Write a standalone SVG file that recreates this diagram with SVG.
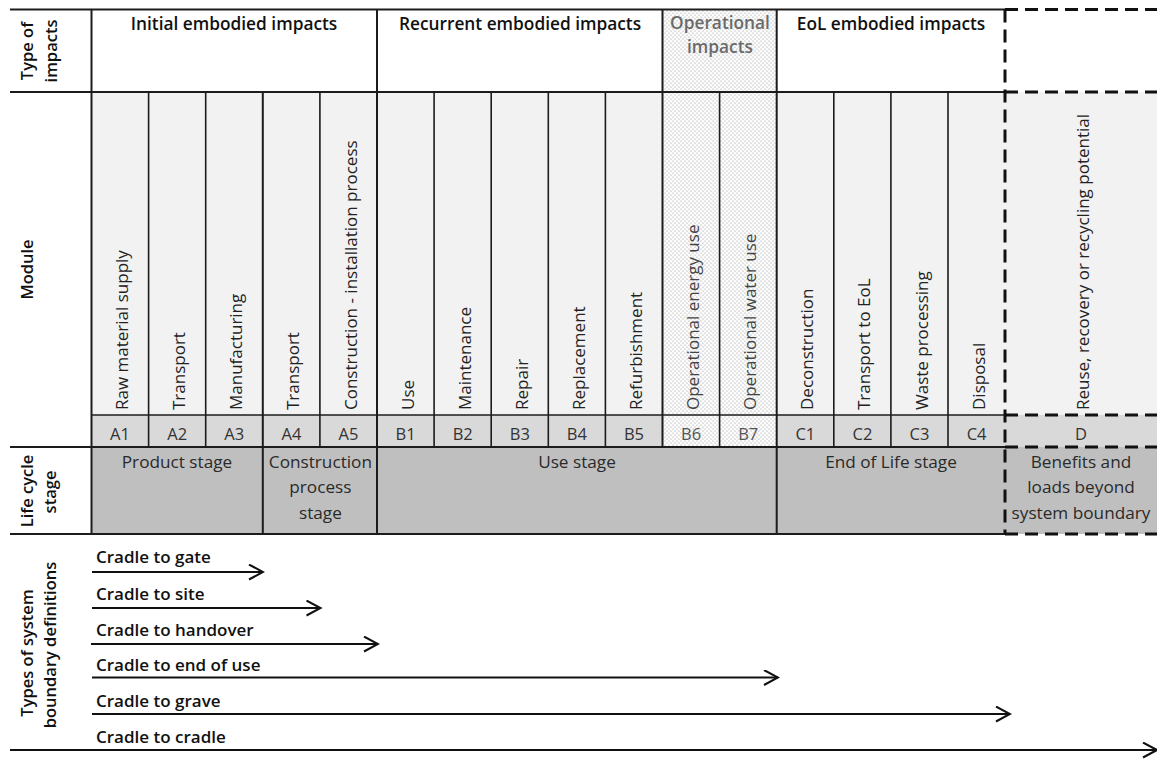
<svg xmlns="http://www.w3.org/2000/svg" width="1157" height="759" viewBox="0 0 1157 759">
<style>
text{font-family:"Open Sans","Liberation Sans",sans-serif;fill:#222}
.hdr{font-size:17.3px;font-weight:600;text-anchor:middle;fill:#111}
.op{font-size:17.3px;font-weight:600;text-anchor:middle;fill:#6a6a6a}
.side{font-size:16.5px;font-weight:600;text-anchor:middle;fill:#111}
.lbl{font-size:17px}
.oplbl{font-size:17px;fill:#444}
.code{font-size:16.5px;text-anchor:middle;fill:#333}
.opcode{font-size:16.5px;text-anchor:middle;fill:#555}
.stage{font-size:17.2px;text-anchor:middle;fill:#2a2a2a}
.bnd{font-size:17px;font-weight:600;fill:#111}
.name{fill:#f2f2f2}
.cd{fill:#d9d9d9}
.dot{fill:url(#dots)}
.ln{stroke:#1c1c1c;stroke-width:2;fill:none}
.thin{stroke:#1c1c1c;stroke-width:1.6;fill:none}
.dash{stroke:#111;stroke-width:3;stroke-dasharray:13 7;fill:none}
.arr{stroke:#111;stroke-width:2;fill:none;marker-end:url(#arrow)}
</style>
<defs>
<pattern id="dots" width="4" height="4" patternUnits="userSpaceOnUse">
<rect width="4" height="4" fill="#fcfcfc"/>
<circle cx="1" cy="1" r="0.6" fill="#999"/>
<circle cx="3" cy="3" r="0.6" fill="#999"/>
</pattern>
<marker id="arrow" markerWidth="17" markerHeight="17" refX="15" refY="8" orient="auto" markerUnits="userSpaceOnUse">
<path d="M1,0.5 L15,8 L1,15.5" fill="none" stroke="#111" stroke-width="2"/>
</marker>
</defs>
<rect width="1157" height="759" fill="#fff"/>

<!-- fills -->
<g id="fills">
<rect class="name" x="91.5" y="92" width="571" height="323"/>
<rect class="name" x="776.7" y="92" width="380.3" height="323"/>
<rect class="cd" x="91.5" y="415" width="571" height="32"/>
<rect class="cd" x="776.7" y="415" width="380.3" height="32"/>
<rect class="dot" x="662.5" y="9.5" width="114.2" height="437.5"/>
<rect x="91.5" y="447" width="1065.5" height="87" fill="#bfbfbf"/>
</g>

<!-- type of impacts -->
<g id="type-of-impacts">
<text class="side" transform="translate(33,51) rotate(-90)">Type of</text>
<text class="side" transform="translate(57,51) rotate(-90)">impacts</text>
</g>
<g id="hdr-initial"><text class="hdr" x="234" y="30">Initial embodied impacts</text></g>
<g id="hdr-recurrent"><text class="hdr" x="520" y="30">Recurrent embodied impacts</text></g>
<g id="hdr-operational"><text class="op" x="720" y="29">Operational</text><text class="op" x="720" y="53">impacts</text></g>
<g id="hdr-eol"><text class="hdr" x="891" y="30">EoL embodied impacts</text></g>

<!-- module labels -->
<g id="module-label"><text class="side" transform="translate(33,269.5) rotate(-90)">Module</text></g>
<g id="mod-A1"><text class="lbl" transform="translate(128,410) rotate(-90)">Raw material supply</text><text class="code" x="120" y="439.5">A1</text></g>
<g id="mod-A2"><text class="lbl" transform="translate(185.2,410) rotate(-90)">Transport</text><text class="code" x="177.2" y="439.5">A2</text></g>
<g id="mod-A3"><text class="lbl" transform="translate(242.3,410) rotate(-90)">Manufacturing</text><text class="code" x="234.3" y="439.5">A3</text></g>
<g id="mod-A4"><text class="lbl" transform="translate(299.4,410) rotate(-90)">Transport</text><text class="code" x="291.4" y="439.5">A4</text></g>
<g id="mod-A5"><text class="lbl" transform="translate(356.5,410) rotate(-90)">Construction - installation process</text><text class="code" x="348.5" y="439.5">A5</text></g>
<g id="mod-B1"><text class="lbl" transform="translate(413.6,410) rotate(-90)">Use</text><text class="code" x="405.6" y="439.5">B1</text></g>
<g id="mod-B2"><text class="lbl" transform="translate(470.7,410) rotate(-90)">Maintenance</text><text class="code" x="462.7" y="439.5">B2</text></g>
<g id="mod-B3"><text class="lbl" transform="translate(527.8,410) rotate(-90)">Repair</text><text class="code" x="519.8" y="439.5">B3</text></g>
<g id="mod-B4"><text class="lbl" transform="translate(584.9,410) rotate(-90)">Replacement</text><text class="code" x="576.9" y="439.5">B4</text></g>
<g id="mod-B5"><text class="lbl" transform="translate(642,410) rotate(-90)">Refurbishment</text><text class="code" x="634" y="439.5">B5</text></g>
<g id="mod-B6"><text class="oplbl" transform="translate(699.1,410) rotate(-90)">Operational energy use</text><text class="opcode" x="691.1" y="439.5">B6</text></g>
<g id="mod-B7"><text class="oplbl" transform="translate(756.2,410) rotate(-90)">Operational water use</text><text class="opcode" x="748.2" y="439.5">B7</text></g>
<g id="mod-C1"><text class="lbl" transform="translate(813.3,410) rotate(-90)">Deconstruction</text><text class="code" x="805.3" y="439.5">C1</text></g>
<g id="mod-C2"><text class="lbl" transform="translate(870.4,410) rotate(-90)">Transport to EoL</text><text class="code" x="862.4" y="439.5">C2</text></g>
<g id="mod-C3"><text class="lbl" transform="translate(927.5,410) rotate(-90)">Waste processing</text><text class="code" x="919.5" y="439.5">C3</text></g>
<g id="mod-C4"><text class="lbl" transform="translate(984.6,410) rotate(-90)">Disposal</text><text class="code" x="976.6" y="439.5">C4</text></g>
<g id="mod-D"><text class="lbl" transform="translate(1089,410) rotate(-90)">Reuse, recovery or recycling potential</text><text class="code" x="1081" y="439.5">D</text></g>

<!-- life cycle stages -->
<g id="lifecycle-label">
<text class="side" transform="translate(33,491) rotate(-90)">Life cycle</text>
<text class="side" transform="translate(56,492) rotate(-90)">stage</text>
</g>
<g id="stage-product"><text class="stage" x="177" y="467.5">Product stage</text></g>
<g id="stage-construction"><text class="stage" x="320.4" y="467.5">Construction</text><text class="stage" x="320.4" y="493">process</text><text class="stage" x="320.4" y="518.5">stage</text></g>
<g id="stage-use"><text class="stage" x="577" y="467.5">Use stage</text></g>
<g id="stage-eol"><text class="stage" x="891" y="467.5">End of Life stage</text></g>
<g id="stage-beyond"><text class="stage" x="1081" y="467.5">Benefits and</text><text class="stage" x="1081" y="493">loads beyond</text><text class="stage" x="1081" y="518.5">system boundary</text></g>

<!-- grid -->
<g id="grid">
<path class="ln" d="M10,9.5H1005 M10,92H1005 M10,447H1005 M10,534H1005"/>
<path class="thin" d="M91.5,415H1005"/>
<path class="ln" d="M91.5,9.5V534 M377,9.5V534 M662.5,9.5V447 M776.7,9.5V534 M262.8,92V534"/>
<path class="thin" d="M148.6,92V447 M205.7,92V447 M319.9,92V447 M434.1,92V447 M491.2,92V447 M548.3,92V447 M605.4,92V447 M719.6,92V447 M833.8,92V447 M890.9,92V447 M948,92V447"/>
<path class="dash" d="M1005,9.5V534 M1005,9.5H1157 M1005,92H1157 M1005,415H1157 M1005,447H1157 M1005,534H1157"/>
</g>

<!-- system boundary definitions -->
<g id="boundary-label">
<text class="side" transform="translate(33,653) rotate(-90)">Types of system</text>
<text class="side" transform="translate(56,645) rotate(-90)">boundary definitions</text>
</g>
<g id="boundary-texts">
<text class="bnd" x="96" y="563">Cradle to gate</text>
<text class="bnd" x="96" y="599.5">Cradle to site</text>
<text class="bnd" x="96" y="636">Cradle to handover</text>
<text class="bnd" x="96" y="671">Cradle to end of use</text>
<text class="bnd" x="96" y="706.5">Cradle to grave</text>
<text class="bnd" x="96" y="743">Cradle to cradle</text>
</g>
<g id="connectors">
<path class="arr" d="M92,572H263"/>
<path class="arr" d="M92,608H320.5"/>
<path class="arr" d="M91,644H378"/>
<path class="arr" d="M92,677.5H778"/>
<path class="arr" d="M92,714H1010"/>
<path class="arr" d="M10,750H1157"/>
</g>
</svg>
